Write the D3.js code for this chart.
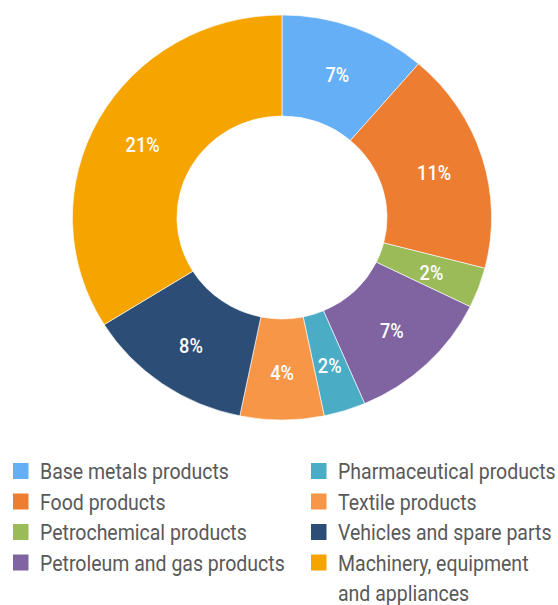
<!DOCTYPE html>
<html>
<head>
<meta charset="utf-8">
<script src="https://cdn.jsdelivr.net/npm/d3@7"></script>
<style>
  html, body { margin: 0; padding: 0; background: #fff; }
  svg { display: block; }
  .slice-label { font-family: Roboto, 'Noto Sans', sans-serif; font-weight: 500; font-size: 21px; fill: #fff; }
  .legend-text { font-family: Roboto, 'Noto Sans', sans-serif; font-size: 22.5px; fill: #595959; }
</style>
</head>
<body>
<svg id="chart" width="558" height="605"></svg>
<script>
// Export shares by product group (%)
const categories = [
  "Base metals products",
  "Food products",
  "Petrochemical products",
  "Petroleum and gas products",
  "Pharmaceutical products",
  "Textile products",
  "Vehicles and spare parts",
  "Machinery, equipment and appliances"
];
const shares = [7, 11, 2, 7, 2, 4, 8, 21];
const colors = ["#65AFF6", "#ED7D31", "#9BBB59", "#8064A2", "#4BACC6", "#F79646", "#2C4D75", "#F6A500"];

const svg = d3.select("#chart");
const W = 558;

const cx = 282, cy = 217.5;
const outerR = 202.5, innerR = 101.5;
const stretchX = 1.035;

const data = categories.map((c, i) => ({ name: c, value: shares[i], color: colors[i] }));

const pie = d3.pie().sort(null).value(d => d.value);
const arcs = pie(data);

const arc = d3.arc().innerRadius(innerR).outerRadius(outerR);
const labelArc = d3.arc().innerRadius(154).outerRadius(154);

const ring = svg.append("g")
  .attr("transform", `translate(${cx},${cy}) scale(${stretchX},1)`);

ring.selectAll("path")
  .data(arcs)
  .join("path")
  .attr("d", arc)
  .attr("fill", d => d.data.color)
  .attr("stroke", "#fff")
  .attr("stroke-width", 0.6);

// Condensed look: measure a sample and squeeze text horizontally
const probe = svg.append("text").attr("class", "legend-text").text("Base metals products");
const condense = 189 / probe.node().getComputedTextLength();
probe.remove();

svg.append("g")
  .selectAll("text")
  .data(arcs)
  .join("text")
  .attr("class", "slice-label")
  .attr("transform", d => {
    const [lx, ly] = labelArc.centroid(d);
    return `translate(${cx + lx * stretchX},${cy + ly + 2}) scale(${condense},1)`;
  })
  .attr("text-anchor", "middle")
  .attr("dominant-baseline", "central")
  .text(d => d.data.value + "%");

// Legend: two columns of four entries
const legend = svg.append("g");
const colX = [13, 311];
const textOffset = 27;
const baseY = 479;
const rowH = 30.5;

data.forEach((d, i) => {
  const col = Math.floor(i / 4);
  const row = i % 4;
  const x = colX[col];
  const y = baseY + row * rowH;
  const avail = (col === 0 ? colX[1] - 6 : W) - (x + textOffset);
  const maxTextW = avail / condense;
  legend.append("rect")
    .attr("x", x).attr("y", y - 16)
    .attr("width", 15.5).attr("height", 16)
    .attr("fill", d.color);
  const t = legend.append("text")
    .attr("class", "legend-text")
    .attr("transform", `translate(${x + textOffset},${y}) scale(${condense},1)`);
  // word wrap within the column width
  const words = d.name.split(" ");
  let line = [];
  let lineNo = 0;
  let tspan = t.append("tspan").attr("x", 0).attr("y", 0);
  words.forEach(w => {
    line.push(w);
    tspan.text(line.join(" "));
    if (tspan.node().getComputedTextLength() > maxTextW && line.length > 1) {
      line.pop();
      tspan.text(line.join(" "));
      line = [w];
      lineNo++;
      tspan = t.append("tspan").attr("x", 0).attr("y", lineNo * rowH).text(w);
    }
  });
});
</script>
</body>
</html>
